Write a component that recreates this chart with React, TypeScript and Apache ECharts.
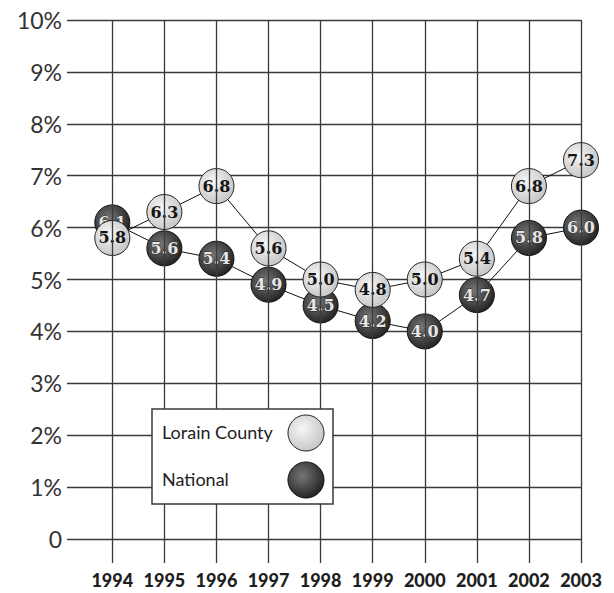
import React, { useEffect, useRef } from "react";
import * as echarts from "echarts";

// Unemployment rate by year, Lorain County vs. national
const years = [1994, 1995, 1996, 1997, 1998, 1999, 2000, 2001, 2002, 2003];
const lorainCounty = [5.8, 6.3, 6.8, 5.6, 5.0, 4.8, 5.0, 5.4, 6.8, 7.3];
const national = [6.1, 5.6, 5.4, 4.9, 4.5, 4.2, 4.0, 4.7, 5.8, 6.0];
const seriesNames = ["Lorain County", "National"];

const lightBall = {
  type: "radial",
  x: 0.4,
  y: 0.38,
  r: 0.7,
  colorStops: [
    { offset: 0, color: "#f6f6f6" },
    { offset: 1, color: "#c2c2c2" },
  ],
};
const darkBall = {
  type: "radial",
  x: 0.4,
  y: 0.38,
  r: 0.7,
  colorStops: [
    { offset: 0, color: "#777777" },
    { offset: 1, color: "#1c1c1c" },
  ],
};

const gridColor = "#3a3a3a";

function pairs(values: number[]) {
  return values.map((v, i) => [years[i], v]);
}

export default function App() {
  const ref = useRef<HTMLDivElement>(null);

  useEffect(() => {
    if (!ref.current) return;
    const chart = echarts.init(ref.current, null, { renderer: "svg" });

    const ballLabel = {
      show: true,
      position: "inside",
      fontFamily: "DejaVu Serif",
      fontWeight: "bold",
      fontSize: 16,
      lineHeight: 14,
      formatter: (p: any) => Number(p.value[1]).toFixed(1),
    };

    const legendText = {
      fontFamily: "Lato",
      fontSize: 18,
      fill: "#222222",
      verticalAlign: "middle",
    };

    chart.setOption({
      animation: false,
      backgroundColor: "#ffffff",
      grid: [
        { left: 67, right: 33, top: 20, height: 519 },
        { left: 67, right: 33, top: 20, height: 543 },
      ],
      xAxis: [
        { type: "value", gridIndex: 0, min: 1993.13, max: 2003, show: false },
        { type: "value", gridIndex: 1, min: 1993.13, max: 2003, show: false },
      ],
      yAxis: [
        {
          type: "value",
          gridIndex: 0,
          min: 0,
          max: 10,
          interval: 1,
          axisLine: { show: false },
          axisTick: { show: false },
          axisLabel: {
            margin: 5,
            fontFamily: "Lato",
            fontSize: 23,
            color: "#333333",
            formatter: (v: number) => (v === 0 ? "0" : `${v}%`),
          },
          splitLine: { show: true, lineStyle: { color: gridColor, width: 1.3 } },
        },
        { type: "value", gridIndex: 1, min: 0, max: 1, show: false },
      ],
      graphic: [
        {
          type: "rect",
          z: 100,
          shape: { x: 152, y: 409, width: 181, height: 95 },
          style: { fill: "#ffffff", stroke: gridColor, lineWidth: 1.5 },
        },
        {
          type: "text",
          z: 101,
          x: 162,
          y: 432,
          style: { ...legendText, text: seriesNames[0] },
        },
        {
          type: "circle",
          z: 101,
          shape: { cx: 306, cy: 433, r: 18 },
          style: { fill: lightBall, stroke: "#222222", lineWidth: 1 },
        },
        {
          type: "text",
          z: 101,
          x: 162,
          y: 479,
          style: { ...legendText, text: seriesNames[1] },
        },
        {
          type: "circle",
          z: 101,
          shape: { cx: 306, cy: 480, r: 18 },
          style: { fill: darkBall, stroke: "#111111", lineWidth: 1 },
        },
      ],
      series: [
        {
          // vertical year lines and year labels
          type: "line",
          xAxisIndex: 1,
          yAxisIndex: 1,
          data: [[years[0], -1]],
          symbol: "none",
          lineStyle: { opacity: 0 },
          silent: true,
          z: 1,
          markLine: {
            silent: true,
            symbol: ["none", "none"],
            lineStyle: { color: gridColor, width: 1.3, type: "solid" },
            label: {
              show: true,
              position: "start",
              distance: 8,
              fontFamily: "Lato",
              fontWeight: 900,
              fontSize: 18,
              color: "#1e1e1e",
              formatter: (p: any) => String(p.value),
            },
            data: years.map((y) => ({ xAxis: y })),
          },
        },
        {
          name: seriesNames[1],
          type: "line",
          xAxisIndex: 0,
          yAxisIndex: 0,
          data: pairs(national),
          z: 3,
          symbol: "circle",
          symbolSize: 35,
          lineStyle: { color: "#111111", width: 1 },
          itemStyle: { color: darkBall, borderColor: "#111111", borderWidth: 1 },
          label: {
            ...ballLabel,
            color: "#e6e6e6",
            textBorderColor: "#2a2a2a",
            textBorderWidth: 1,
          },
        },
        {
          name: seriesNames[0],
          type: "line",
          xAxisIndex: 0,
          yAxisIndex: 0,
          data: pairs(lorainCounty),
          z: 4,
          symbol: "circle",
          symbolSize: 35,
          lineStyle: { color: "#111111", width: 1 },
          itemStyle: { color: lightBall, borderColor: "#222222", borderWidth: 1 },
          label: { ...ballLabel, color: "#151515" },
        },
      ],
    });

    return () => chart.dispose();
  }, []);

  return (
    <div
      ref={ref}
      style={{ position: "fixed", left: 0, top: 0, width: 614, height: 593 }}
    />
  );
}
